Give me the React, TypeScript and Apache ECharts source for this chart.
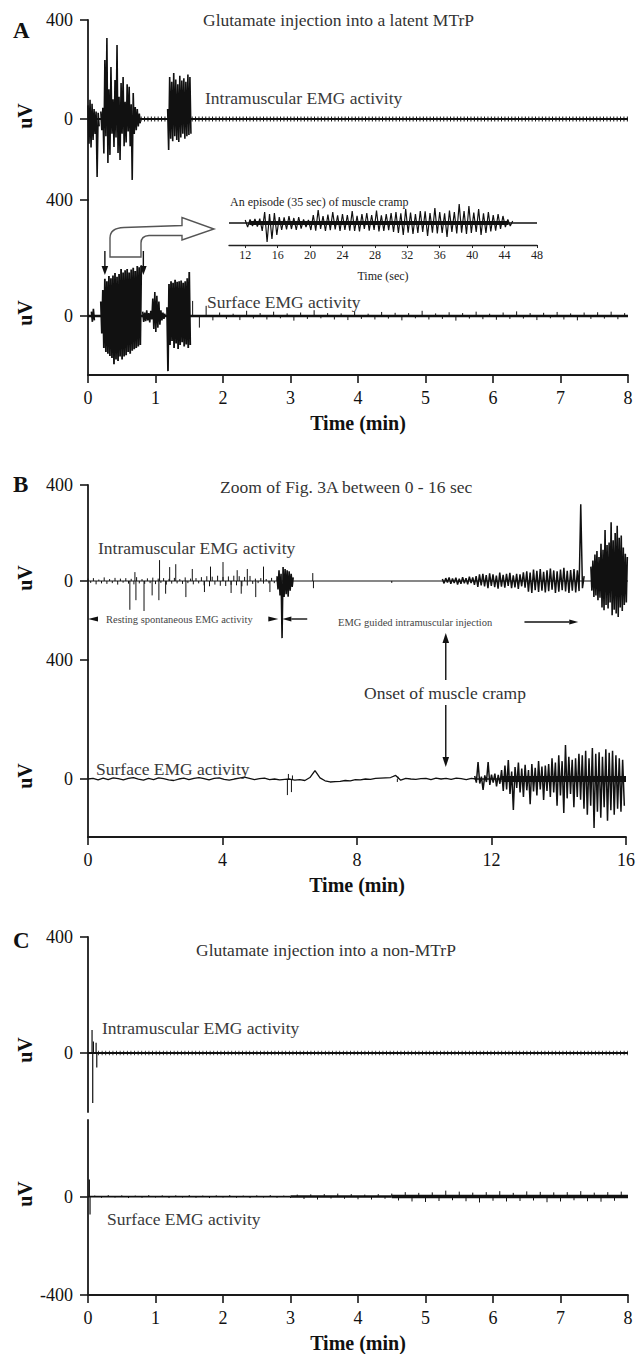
import React, { useEffect, useRef } from "react";
import * as echarts from "echarts";

const FONT = "'Liberation Serif', 'Times New Roman', Times, serif";
const INK = "#111";
const TXT = "#3a3a3a";

// ---------------- Panel A : Glutamate injection into a latent MTrP (0-8 min) ----------------
const A_STEP = 0.015; // minutes between burst samples
// intramuscular EMG (uV)
const a1Burst1Start = 0.0;
const a1Burst1 = [55, -100, 78, -115, 62, -85, 40, -60, 30, -234, 25, -30];
const a1Burst2Start = 0.19;
const a1Burst2 = [30, -45, 45, -139, 238, -70, 327, -178, 120, -145, 210, -60, 80, -113, 158, -75, 299, -137, 90, -166, 145, -60, 170, -110, 70, -95, 140, -50, 130, -110, 60, -246, 105, -60, 48, -45, 40, -30, 22, -18];
const a1Burst3Start = 1.18;
const a1Burst3 = [40, -125, 170, -80, 150, -90, 186, -70, 160, -85, 140, -93, 175, -75, 155, -60, 165, -80, 150, -70, 180, -65, 170, -60];
// surface EMG (uV)
const a2Burst0Start = 0.05;
const a2Burst0 = [15, -20, 25, -15];
const a2Burst1Start = 0.19;
const a2Burst1 = [50, -60, 90, -110, 128, -124, 120, -130, 138, -138, 130, -145, 140, -166, 148, -150, 135, -155, 145, -140, 162, -150, 150, -140, 158, -135, 162, -124, 150, -130, 160, -120, 166, -115, 155, -110, 172, -105, 168, -100, 175];
const a2Burst2Start = 0.81;
const a2Burst2 = [15, -20, 12, -18, 20, -15, 10, -22, 18, -12, 60, -45, 83, -55, 70, -40, 50, -30, 20, -15, 12, -10, 8];
const a2Burst3Start = 1.17;
const a2Burst3 = [30, -190, 110, -100, 120, -86, 115, -110, 125, -95, 118, -114, 120, -100, 122, -90, 115, -105, 120, -98, 130, -110, 152, -100];
const A2_NOISE_STEP = 0.1;
const a2NoiseStart = 1.55;
const a2Noise = [52, -40, 35, -15, 12, -10, 8, -14, 18, -9, 10, -12, 15, -8, 9, -16, 12, -10, 20, -8, 10, -12, 9, -14, 16, -10, 8, -12, 14, -9, 11, -15, 10, -8, 18, -12, 9, -10, 13, -16, 10, -9, 15, -11, 8, -13, 12, -10, 16, -9, 10, -14, 11, -8, 14, -12, 9, -15, 12, -10, 13, -9, 15, -11, 10];
// inset: an episode (35 sec) of muscle cramp (seconds, arbitrary uV)
const INSET_STEP = 0.3;
const insetStart = 12;
const insetCramp = [
  15, -20, 18, -15, 20, -18, 22,
  -40, 55, -95, 45, -80, 50, -60,
  30, -35, 28, -32, 35, -30, 25, -35, 30, -28,
  18, -20, 15,
  -35, 40, -38, 65, -30, 35, -40, 42, -36, 55, -32, 38, -40, 45, -35, 40, -38, 60, -40, 36, -42, 44, -30, 50, -38, 40, -35, 62, -42, 38, -40, 45, -36,
  50, -45, 55, -50, 48, -60, 70, -48, 52, -55, 45, -50, 60, -45, 58, -65, 50, -48, 75, -52, 55, -50, 48, -70, 62, -45, 55, -52, 95, -48, 60, -55, 85, -50, 52, -45, 70, -60, 48, -50, 55, -42, 40, -38, 45, -30, 35,
  -20, 18, -15, 10,
];
const insetTicks = [12, 16, 20, 24, 28, 32, 36, 40, 44, 48];

// ---------------- Panel B : Zoom of Fig. 3A between 0 - 16 sec ----------------
const B1_NOISE_STEP = 0.08;
const b1Noise = [
  10, -8, 12, -14, 6, -10, 15, -12, 8, -9, 13, -15, 10, -7, 12, -11, 9, -14, 16, -10, 8, -12, 11, -9, 14, -13, 10, -8, 12, -15, 9, -11, 13, -10, 8, -12, 15, -9, 10, -14, 12, -10, 16,
  -18, 20, -22, 18, -15, 22, -20, 17, -21, 19, -16, 22, -18, 20, -22, 17, -19, 21,
  -12, 10, -9, 12, -11, 8, -10, 13, -9, 11, -12,
];
const b1Spikes = [
  [1.24, -120], [1.39, 37], [1.42, -80], [1.66, -125], [1.9, -60], [2.1, -80], [2.12, 87], [2.3, -53], [2.42, 58], [2.6, 70],
  [2.9, -67], [3.09, 50], [3.45, -46], [3.63, 60], [4.0, 79], [4.24, -50], [4.42, 45], [4.54, -53], [4.72, 50], [4.97, -67],
  [5.2, 60], [5.39, -46], [6.66, 33], [6.68, -30], [9.0, -8],
];
const B_STEP = 0.03;
const b1Burst1Start = 5.6;
const b1Burst1 = [20, -35, 45, -60, 30, -238, 58, -67, 50, -55, 45, -65, 40, -40, 30, -25, 15];
const B_RAMP_STEP = 0.05;
const b1RampStart = 10.5;
const b1Ramp = [
  8, -10, 12, -6, 15, -12, 10, -8, 14, -15, 9, -12, 16, -10, 12, -14, 18, -9, 15, -16,
  20, -25, 28, -18, 30, -22, 25, -30, 32, -20, 28, -26, 22, -32, 35, -24, 26, -28, 30, -20, 34, -30, 24, -27, 30, -33, 28, -22, 36, -28,
  40, -45, 35, -50, 48, -38, 42, -46, 50, -40, 38, -48, 45, -42, 52, -36, 44, -50, 40, -45, 48, -38, 55, -44, 42, -50, 46, -40, 50, -48, 45, -42, 320, -30, 20,
];
const b1Burst2Start = 14.9;
const b1Burst2 = [60, -40, 85, -67, 110, -60, 125, -80, 100, -70, 155, -110, 130, -122, 212, -100, 150, -115, 160, -90, 245, -143, 170, -120, 200, -135, 230, -150, 180, -110, 190, -125, 140, -100, 113, -90, 100];
const B2_WAVE_STEP = 0.15;
const b2Wave = [
  0, 2, -3, 3, -2, 4, 1, -3, 2, 5,
  0, -4, 2, -2, 4, 1, -3, -5, 0, 3,
  -2, 2, 5, 1, -3, 2, 4, -1, -4, 0,
  3, 6, 2, -2, 1, 3, -2, 0, -3, -1,
  0, -4, -2, -5, 5, 28, 4, -6, -10, -9,
  -8, -5, -6, -2, -3, 0, -1, 2, 3, 4,
  5, 12, -4, 2, 0, -1, 1, 2, -2, 3,
  0, 2, -1, 3, 1, -2, 2, 0,
];
const b2Spikes = [[5.93, -54], [5.96, 17], [6.05, -44], [6.08, 12], [9.2, -10], [9.22, 8]];
const b2BurstStart = 11.5;
const b2Burst = [
  10, -12, 57, -15, 8, -37, 12, -10, 57, -20, 15, -12, 18, -25, 14, -16,
  30, -40, 45, -35, 64, -50, 25, -104, 40, -30, 55, -45, 35, -60, 48, -38, 30, -85, 50, -42, 38, -55, 60, -35, 42, -70, 45, -40,
  50, -60, 70, -45, 55, -90, 80, -55, 60, -114, 114, -65, 75, -50, 65, -95, 70, -60, 85, -70,
  80, -100, 95, -120, 70, -90, 104, -165, 85, -110, 90, -130, 75, -95, 100, -140, 88, -105, 95, -120, 80, -100, 70, -110, 65, -90,
];

// ---------------- Panel C : Glutamate injection into a non-MTrP ----------------
const c1Spikes = [[0.06, 79], [0.07, -172], [0.08, 40], [0.12, 35], [0.13, -50]];
const c2Spikes = [[0.02, 69], [0.03, -73]];
const C2_NOISE_STEP = 0.1;
const c2NoiseStart = 0.1;
const c2Noise = [
  4, -5, 6, -4, 5, -6, 4, -5, 6, -4, 5, -6, 5, -4, 6, -5, 4, -6, 5, -4, 6, -5, 4, -6, 5, -4, 6, -5, 4, -6,
  8, -10, 9, -12, 10, -8, 12, -9, 10, -11, 8, -12, 10, -9, 12,
  -16, 18, -20, 15, -22, 17, -18, 24, -15, 20, -19, 16, -24, 18, -17, 22, -20, 15, -18, 21, -16, 19, -23, 17, -20, 18, -15, 22, -19, 16, -21, 18, -17, 20,
];

const yTicksPos = [0, 400];
const yTicksNeg = [-400, 0];

// annotation times (minutes) used to place arrows through the axes
const episodeStart = 0.25;
const episodeEnd = 0.82;
const restingEnd = 5.66;
const injArrowTip = 5.78;
const injArrowTail = 6.52;
const injRightTail = 12.98;
const injRightTip = 14.58;
const onsetTime = 10.64;

const HOLLOW_ARROW =
  "M110 257 L110 238 Q110 228 124 227.5 L182 225.5 L182 217.5 L214 229 L182 240 L182 235.5 L149 235.5 Q141 236 141 243 L141 257 Z";
let shapeRegistered = false;
function ensureShape() {
  if (shapeRegistered) return;
  echarts.graphic.registerShape("hollowArrow", echarts.graphic.extendPath(HOLLOW_ARROW, {}) as any);
  shapeRegistered = true;
}

const seq = (t0: number, dt: number, vals: number[]) =>
  vals.map((v, i) => [Math.round((t0 + i * dt) * 10000) / 10000, v]);

function spikeSeries(idx: number, data: number[][], width: number) {
  return {
    type: "custom",
    xAxisIndex: idx,
    yAxisIndex: idx,
    data,
    silent: true,
    z: 3,
    renderItem: (_p: any, api: any) => {
      const t = api.value(0);
      const v = api.value(1);
      const a = api.coord([t, 0]);
      const b = api.coord([t, v]);
      return {
        type: "line",
        shape: { x1: a[0], y1: a[1], x2: b[0], y2: b[1] },
        style: { stroke: INK, lineWidth: width },
      };
    },
  };
}

function lineSeries(idx: number, data: number[][], width: number, dash?: number[], z = 2) {
  return {
    type: "line",
    xAxisIndex: idx,
    yAxisIndex: idx,
    data,
    symbol: "none",
    showSymbol: false,
    silent: true,
    z,
    lineStyle: { color: INK, width, type: dash ?? "solid", cap: "butt", join: "bevel" },
  };
}
// dense EMG bursts: a zig-zag trace through the samples
const burst = (idx: number, data: number[][], width = 1.6) => lineSeries(idx, data, width, undefined, 3);

const labelStyle = { fontSize: 18, fontFamily: FONT, color: INK };
const axisLineStyle = { color: "#1a1a1a", width: 1.8 };

function yAx(g: number, min: number, max: number, ticks: number[]) {
  return {
    gridIndex: g,
    type: "value",
    min,
    max,
    axisLine: { show: true, onZero: false, lineStyle: axisLineStyle },
    axisTick: { show: true, length: 8, customValues: ticks, lineStyle: { color: "#1a1a1a", width: 1.6 } },
    axisLabel: { show: true, customValues: ticks, margin: 15, ...labelStyle },
    splitLine: { show: false },
  };
}

function xAx(g: number, max: number, interval: number, visible: boolean) {
  if (!visible) return { gridIndex: g, type: "value", min: 0, max, show: false };
  return {
    gridIndex: g,
    type: "value",
    min: 0,
    max,
    interval,
    axisLine: { show: true, onZero: false, lineStyle: axisLineStyle },
    axisTick: { show: true, length: 8, lineStyle: { color: "#1a1a1a", width: 1.6 } },
    axisLabel: { show: true, margin: 14, ...labelStyle },
    splitLine: { show: false },
    name: "Time (min)",
    nameLocation: "middle",
    nameGap: 38,
    nameTextStyle: { fontSize: 20, fontWeight: "bold", fontFamily: FONT, color: INK },
  };
}

function buildOption() {
  return {
    animation: false,
    backgroundColor: "#ffffff",
    textStyle: { fontFamily: FONT },
    grid: [
      { left: 88, top: 20, width: 540, height: 180 },
      { left: 88, top: 200, width: 540, height: 175 },
      { left: 229, top: 200, width: 308, height: 45 },
      { left: 88, top: 485, width: 540, height: 175 },
      { left: 88, top: 660, width: 540, height: 177 },
      { left: 88, top: 937, width: 540, height: 175 },
      { left: 88, top: 1120, width: 540, height: 176 },
    ],
    xAxis: [
      xAx(0, 8, 1, false),
      xAx(1, 8, 1, true),
      {
        gridIndex: 2,
        type: "value",
        min: 10,
        max: 48,
        axisLine: { show: true, onZero: false, lineStyle: { color: "#222", width: 1.3 } },
        axisTick: { show: true, length: 3, customValues: insetTicks, lineStyle: { color: "#222", width: 1 } },
        axisLabel: { show: true, customValues: insetTicks, margin: 4, fontSize: 12, fontFamily: FONT, color: "#222" },
        splitLine: { show: false },
        name: "Time (sec)",
        nameLocation: "middle",
        nameGap: 25,
        nameTextStyle: { fontSize: 12, fontFamily: FONT, color: "#222" },
      },
      xAx(3, 16, 4, false),
      xAx(4, 16, 4, true),
      xAx(5, 8, 1, false),
      xAx(6, 8, 1, true),
    ],
    yAxis: [
      yAx(0, -327.3, 400, yTicksPos),
      yAx(1, -203.4, 400, yTicksPos),
      { gridIndex: 2, type: "value", min: -110, max: 115, show: false },
      yAx(3, -329.2, 400, yTicksPos),
      yAx(4, -194.9, 400, yTicksPos),
      yAx(5, -203.4, 400, yTicksPos),
      yAx(6, -400, 311.1, yTicksNeg),
    ],
    series: [
      // A1 intramuscular
      lineSeries(0, [[0, 0], [8, 0]], 2.2),
      lineSeries(0, [[0.78, 0], [8, 0]], 5, [1, 2.4]),
      burst(0, seq(a1Burst1Start, A_STEP, a1Burst1)),
      burst(0, seq(a1Burst2Start, A_STEP, a1Burst2)),
      burst(0, seq(a1Burst3Start, A_STEP, a1Burst3)),
      // A2 surface
      lineSeries(1, [[0, 0], [8, 0]], 2.6),
      burst(1, seq(a2Burst0Start, A_STEP, a2Burst0)),
      burst(1, seq(a2Burst1Start, A_STEP, a2Burst1), 1.8),
      burst(1, seq(a2Burst2Start, A_STEP, a2Burst2)),
      burst(1, seq(a2Burst3Start, A_STEP, a2Burst3), 1.8),
      spikeSeries(1, seq(a2NoiseStart, A2_NOISE_STEP, a2Noise), 1),
      // inset
      lineSeries(2, [[10, 0], [48, 0]], 1.6),
      lineSeries(2, [[12.5, 0], [44.5, 0]], 4),
      burst(2, seq(insetStart, INSET_STEP, insetCramp), 1.2),
      // B1 intramuscular
      lineSeries(3, [[0, 0], [16, 0]], 1.2),
      spikeSeries(3, seq(0, B1_NOISE_STEP, b1Noise), 1),
      spikeSeries(3, b1Spikes, 1),
      burst(3, seq(b1Burst1Start, B_STEP, b1Burst1)),
      burst(3, seq(b1RampStart, B_RAMP_STEP, b1Ramp), 1.5),
      burst(3, seq(b1Burst2Start, B_STEP, b1Burst2)),
      // B2 surface
      lineSeries(4, seq(0, B2_WAVE_STEP, b2Wave), 1.3),
      lineSeries(4, [[11.5, 0], [16, 0]], 1.6),
      lineSeries(4, [[12.3, 0], [16, 0]], 6),
      spikeSeries(4, b2Spikes, 1),
      burst(4, seq(b2BurstStart, B_RAMP_STEP, b2Burst), 1.5),
      // C1 intramuscular
      lineSeries(5, [[0, 0], [8, 0]], 2.2),
      lineSeries(5, [[0.15, 0], [8, 0]], 4.5, [0.8, 2.8]),
      spikeSeries(5, c1Spikes, 1.2),
      // C2 surface
      lineSeries(6, [[0, 0], [3, 0]], 1.8),
      lineSeries(6, [[3, 0], [4.5, 0]], 2.6),
      lineSeries(6, [[4.5, 0], [8, 0]], 3.4),
      spikeSeries(6, c2Spikes, 1.2),
      spikeSeries(6, seq(c2NoiseStart, C2_NOISE_STEP, c2Noise), 1),
    ],
  };
}

function txt(text: string, x: number, y: number, size: number, o: any = {}) {
  return {
    type: "text",
    x,
    y,
    rotation: o.rot ?? 0,
    silent: true,
    z: 10,
    style: {
      text,
      fill: o.fill ?? TXT,
      font: `${o.weight ?? "normal"} ${size}px ${FONT}`,
      align: o.align ?? "left",
      verticalAlign: "middle",
    },
  };
}

function arrow(x1: number, y1: number, x2: number, y2: number, hl = 9, hw = 3, shaft = true) {
  const dx = x2 - x1;
  const dy = y2 - y1;
  const len = Math.hypot(dx, dy) || 1;
  const ux = dx / len;
  const uy = dy / len;
  const bx = x2 - ux * hl;
  const by = y2 - uy * hl;
  const els: any[] = [];
  if (shaft) {
    els.push({ type: "line", silent: true, z: 10, shape: { x1, y1, x2: bx, y2: by }, style: { stroke: "#111", lineWidth: 1.4 } });
  }
  els.push({
    type: "polygon",
    silent: true,
    z: 10,
    shape: { points: [[x2, y2], [bx - uy * hw, by + ux * hw], [bx + uy * hw, by - ux * hw]] },
    style: { fill: "#111" },
  });
  return els;
}

function buildGraphic(chart: any) {
  const xA = (t: number) => chart.convertToPixel({ xAxisIndex: 1 }, t) as number;
  const xB = (t: number) => chart.convertToPixel({ xAxisIndex: 4 }, t) as number;
  const els: any[] = [];
  // panel letters
  els.push(txt("A", 13, 30, 23, { weight: "bold", fill: INK }));
  els.push(txt("B", 13, 484, 23, { weight: "bold", fill: INK }));
  els.push(txt("C", 13, 940, 23, { weight: "bold", fill: INK }));
  // titles
  els.push(txt("Glutamate injection into a latent MTrP", 203, 20, 17.5, { fill: "#333" }));
  els.push(txt("Zoom of Fig. 3A between 0 - 16 sec", 220, 487, 17.5, { fill: "#333" }));
  els.push(txt("Glutamate injection into a non-MTrP", 196, 950, 17.5, { fill: "#333" }));
  // trace labels
  els.push(txt("Intramuscular EMG activity", 205, 98, 17.5));
  els.push(txt("Surface EMG activity", 207, 302, 17.5));
  els.push(txt("Intramuscular EMG activity", 98, 548, 17.5));
  els.push(txt("Surface EMG activity", 96, 769, 17.5));
  els.push(txt("Intramuscular EMG activity", 102, 1028, 17.5));
  els.push(txt("Surface EMG activity", 107, 1219, 17.5));
  // uV axis names
  const uvY = [116, 313, 578, 776, 1050, 1194];
  uvY.forEach((y) => els.push(txt("uV", 25, y, 20, { weight: "bold", fill: INK, align: "center", rot: Math.PI / 2 })));
  // inset
  els.push(txt("An episode (35 sec) of muscle cramp", 230, 202, 12, { fill: "#222" }));
  els.push({
    type: "hollowArrow",
    x: 0,
    y: 0,
    silent: true,
    z: 9,
    style: { fill: "#ffffff", stroke: "#555", lineWidth: 1.4 },
  });
  els.push(...arrow(xA(episodeStart), 251, xA(episodeStart), 275, 9, 3.3));
  els.push(...arrow(xA(episodeEnd), 251, xA(episodeEnd), 275, 9, 3.3));
  // panel B annotations
  els.push(txt("Resting spontaneous EMG activity", 106, 619, 10.5, { fill: "#444" }));
  els.push(...arrow(xB(0) + 10, 619, xB(0), 619, 10, 2.6, false));
  els.push(...arrow(xB(restingEnd) - 10, 619, xB(restingEnd), 619, 10, 2.6, false));
  els.push(...arrow(xB(injArrowTail), 619, xB(injArrowTip), 619, 9, 2.6));
  els.push(txt("EMG guided intramuscular injection", 338, 622, 10.5, { fill: "#444" }));
  els.push(...arrow(xB(injRightTail), 622, xB(injRightTip), 622, 9, 2.6));
  els.push(...arrow(xB(onsetTime), 680, xB(onsetTime), 633, 10, 3.3));
  els.push(...arrow(xB(onsetTime), 705, xB(onsetTime), 767, 10, 3.3));
  els.push(txt("Onset of muscle cramp", 445, 693, 17.5, { align: "center", fill: "#333" }));
  return els;
}

export default function App() {
  const ref = useRef<HTMLDivElement>(null);
  useEffect(() => {
    document.body.style.margin = "0";
    if (!ref.current) return;
    ensureShape();
    const chart = echarts.init(ref.current, undefined, { renderer: "svg" });
    chart.setOption(buildOption() as any);
    chart.setOption({ graphic: { elements: buildGraphic(chart) } } as any);
    return () => chart.dispose();
  }, []);
  return <div ref={ref} style={{ width: 638, height: 1354, background: "#fff" }} />;
}
